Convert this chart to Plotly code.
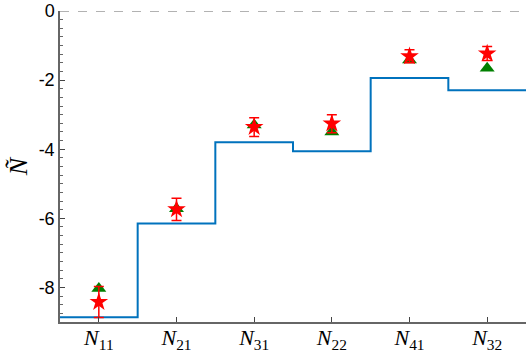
import plotly.graph_objects as go

categories = ["N11", "N21", "N31", "N22", "N41", "N32"]
tick_labels = ["<i>N</i><sub>11</sub>", "<i>N</i><sub>21</sub>", "<i>N</i><sub>31</sub>",
               "<i>N</i><sub>22</sub>", "<i>N</i><sub>41</sub>", "<i>N</i><sub>32</sub>"]
positions = [1, 2, 3, 4, 5, 6]
step_values = [-8.86, -6.15, -3.80, -4.06, -1.94, -2.29]
triangle_values = [-8.03, -5.72, -3.30, -3.50, -1.42, -1.66]
star_values = [-8.42, -5.74, -3.36, -3.26, -1.31, -1.23]
star_errors = [0.45, 0.32, 0.27, 0.26, 0.19, 0.20]
y_ticks = [0, -2, -4, -6, -8]
y_ticktext = ["0", "-2", "-4", "-6", "-8"]

# step line extends half a category on each side
step_x = [positions[0] - 0.5] + [p + 0.5 for p in positions]
step_y = step_values + [step_values[-1]]

fig = go.Figure()
fig.add_trace(go.Scatter(x=step_x, y=step_y, mode="lines", line_shape="hv",
                         line=dict(color="#0072BD", width=2), showlegend=False, cliponaxis=False))
fig.add_trace(go.Scatter(x=positions, y=triangle_values, mode="markers",
                         marker=dict(symbol="triangle-up", color="green", size=13),
                         showlegend=False))
fig.add_trace(go.Scatter(x=positions, y=star_values, mode="markers",
                         marker=dict(symbol="star", color="red", size=14),
                         error_y=dict(type="data", array=star_errors, color="red",
                                      thickness=1.5, width=5),
                         showlegend=False))

fig.add_shape(type="line", xref="paper", x0=0, x1=1, yref="y", y0=0, y1=0,
              line=dict(color="#999999", width=1.5, dash="dash"))

fig.update_layout(
    width=526, height=355,
    margin=dict(l=60, r=0, t=11, b=33),
    plot_bgcolor="white", paper_bgcolor="white",
    font=dict(family="Liberation Sans, Arial, sans-serif", color="black"),
    xaxis=dict(range=[0.5, 6.5], tickvals=positions, ticktext=tick_labels,
               showline=True, linecolor="#666666", linewidth=1.5,
               ticks="inside", ticklen=5, tickcolor="#444444",
               tickfont=dict(family="Liberation Serif, serif", size=22),
               ticklabelstandoff=-5,
               showgrid=False, zeroline=False, automargin=False),
    yaxis=dict(range=[-9, 0], tickvals=y_ticks, ticktext=y_ticktext,
               showline=True, linecolor="#666666", linewidth=1.5,
               ticks="inside", ticklen=5, tickcolor="#444444",
               minor=dict(dtick=0.25, ticks="inside", ticklen=3, tickcolor="#666666", showgrid=False),
               tickfont=dict(size=18),
               title=dict(text="<i>Ñ</i>", font=dict(family="Liberation Serif, serif", size=26), standoff=4),
               showgrid=False, zeroline=False, automargin=False),
)

fig.write_html("out.html")
